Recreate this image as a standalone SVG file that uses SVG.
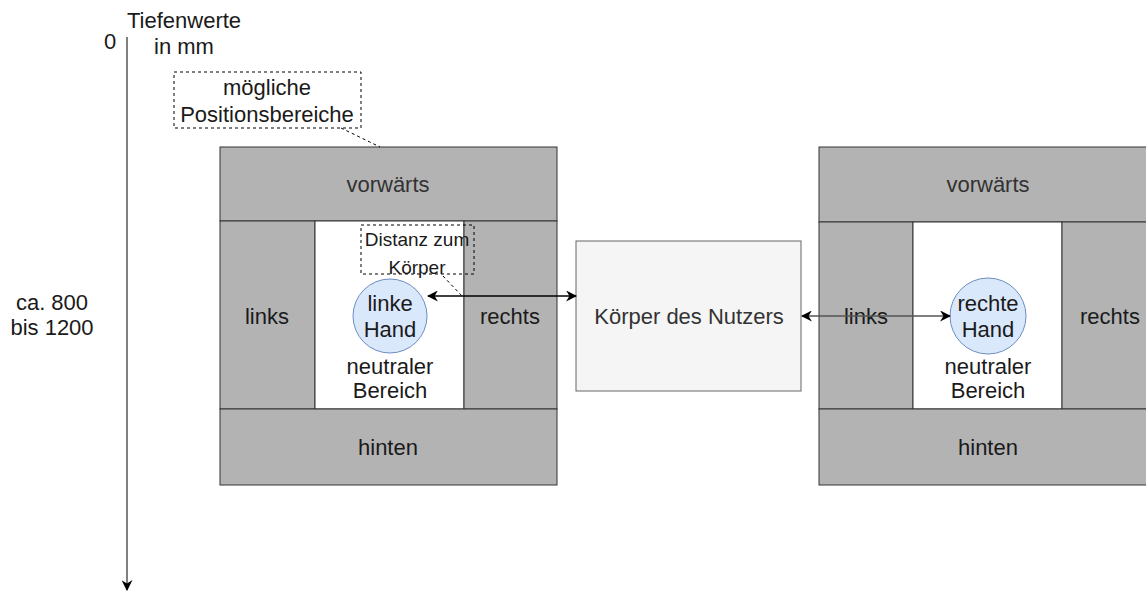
<svg xmlns="http://www.w3.org/2000/svg" width="1146" height="597" viewBox="0 0 1146 597">
  <style>
    text { font-family: "Liberation Sans", Arial, sans-serif; font-size: 22px; fill: #1a1a1a; text-anchor: middle; dominant-baseline: central; }
    .zone { fill: #b3b3b3; stroke: #333; stroke-width: 1; }
    .neutral { fill: #ffffff; stroke: #333; stroke-width: 1; }
    .hand { fill: #dae8fc; stroke: #6c8ebf; stroke-width: 1; }
    .body { fill: #f5f5f5; stroke: #666; stroke-width: 1; }
    .note { fill: none; stroke: #000; stroke-width: 1; stroke-dasharray: 3 3; }
    .small { font-size: 19px; }
    .light { fill: #333; }
  </style>
  <defs>
    <marker id="arr" viewBox="0 0 10 10" refX="9" refY="5" markerWidth="11" markerHeight="11" markerUnits="userSpaceOnUse" orient="auto-start-reverse">
      <path d="M0,0 L10,5 L0,10 L3,5 Z" fill="#000"/>
    </marker>
  </defs>

  <!-- depth axis -->
  <g id="axis">
    <line x1="127" y1="37" x2="127" y2="590" stroke="#808080" stroke-width="2" marker-end="url(#arr)"/>
    <text x="110" y="41">0</text>
    <text x="184" y="20">Tiefenwerte</text>
    <text x="184" y="46">in mm</text>
    <text x="52" y="302">ca. 800</text>
    <text x="52" y="327">bis 1200</text>
  </g>

  <!-- left hand area -->
  <g id="left-area">
    <rect class="zone" x="220" y="147" width="337" height="74"/>
    <text class="light" x="388" y="184">vorwärts</text>
    <rect class="zone" x="220" y="221" width="95" height="188"/>
    <text x="267" y="316">links</text>
    <rect class="neutral" x="315" y="221" width="149" height="188"/>
    <rect class="zone" x="464" y="221" width="93" height="188"/>
    <text x="510" y="316">rechts</text>
    <rect class="zone" x="220" y="409" width="337" height="76"/>
    <text x="388" y="447">hinten</text>
  </g>
  <g id="left-hand">
    <circle class="hand" cx="390" cy="316" r="37"/>
    <text x="390" y="303">linke</text>
    <text x="390" y="329">Hand</text>
    <text x="390" y="366">neutraler</text>
    <text x="390" y="390">Bereich</text>
  </g>

  <!-- right hand area -->
  <g id="right-area">
    <rect class="zone" x="819" y="147" width="337" height="75"/>
    <text class="light" x="988" y="184">vorwärts</text>
    <rect class="zone" x="819" y="222" width="94" height="187"/>
    <text x="866" y="316">links</text>
    <rect class="neutral" x="913" y="222" width="149" height="187"/>
    <rect class="zone" x="1062" y="222" width="94" height="187"/>
    <text x="1110" y="316">rechts</text>
    <rect class="zone" x="819" y="409" width="337" height="76"/>
    <text x="988" y="447">hinten</text>
  </g>
  <g id="right-hand">
    <circle class="hand" cx="988" cy="316" r="38"/>
    <text x="988" y="303">rechte</text>
    <text x="988" y="329">Hand</text>
    <text x="988" y="366">neutraler</text>
    <text x="988" y="390">Bereich</text>
  </g>

  <!-- user's body -->
  <g id="body">
    <rect class="body" x="576" y="241" width="225" height="150"/>
    <text class="light" x="689" y="316">Körper des Nutzers</text>
  </g>

  <!-- annotations -->
  <g id="note-positions">
    <rect class="note" x="174" y="72" width="187" height="56"/>
    <text x="267" y="87">mögliche</text>
    <text x="267" y="114">Positionsbereiche</text>
  </g>
  <g id="note-distance">
    <rect class="note" x="361" y="225" width="113" height="49"/>
    <text class="small" x="417" y="239">Distanz zum</text>
    <text class="small" x="417" y="267">Körper</text>
  </g>

  <!-- connectors -->
  <g id="connectors">
    <line x1="428" y1="296" x2="576" y2="296" stroke="#000" stroke-width="1.5" marker-start="url(#arr)" marker-end="url(#arr)"/>
    <line x1="802" y1="316" x2="950" y2="316" stroke="#555" stroke-width="1.5" marker-start="url(#arr)" marker-end="url(#arr)"/>
    <line class="note" x1="341" y1="128" x2="380" y2="147"/>
    <line class="note" x1="443" y1="276" x2="462" y2="296"/>
  </g>
</svg>
